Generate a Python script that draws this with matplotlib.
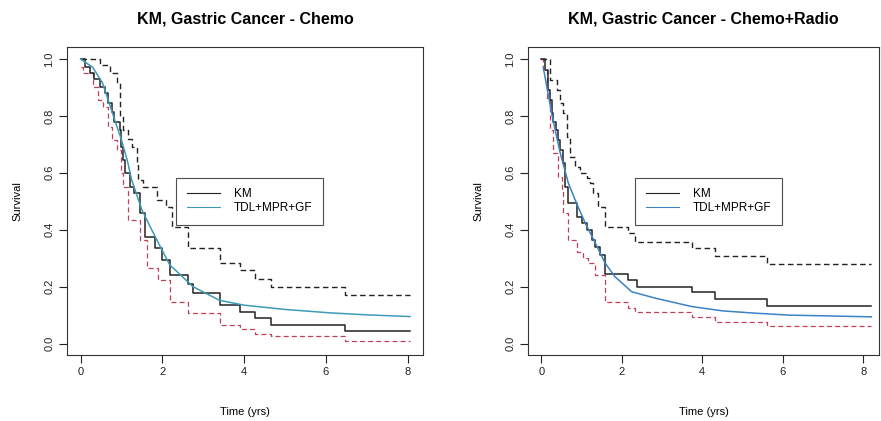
import matplotlib
matplotlib.use("Agg")
import matplotlib.pyplot as plt

plt.rcParams['font.family'] = ['Liberation Sans', 'DejaVu Sans']

# --- Chemo: Kaplan-Meier and 95% limits (step curves)
chemo_km_t = [0, 0.1, 0.22, 0.34, 0.47, 0.59, 0.66, 0.76, 0.83, 0.96, 1.0, 1.05, 1.1, 1.2,
              1.32, 1.45, 1.57, 1.81, 2.0, 2.18, 2.62, 2.75, 3.4, 3.9, 4.26, 4.66, 6.47, 8.06]
chemo_km_s = [1.0, 0.97, 0.95, 0.93, 0.9, 0.88, 0.845, 0.815, 0.78, 0.75, 0.69, 0.645, 0.6, 0.55,
              0.53, 0.46, 0.375, 0.337, 0.295, 0.242, 0.21, 0.178, 0.137, 0.11, 0.09, 0.067, 0.046, 0.046]
chemo_up_t = [0, 0.47, 0.71, 0.88, 0.96, 1.03, 1.15, 1.27, 1.37, 1.4, 1.52, 1.86, 2.1, 2.23,
              2.62, 3.4, 3.9, 4.26, 4.66, 6.47, 8.06]
chemo_up_s = [1.0, 0.98, 0.95, 0.915, 0.8, 0.75, 0.72, 0.69, 0.635, 0.575, 0.55, 0.505, 0.48, 0.41,
              0.337, 0.284, 0.26, 0.228, 0.2, 0.172, 0.172]
chemo_lo_t = [0, 0.05, 0.3, 0.42, 0.54, 0.66, 0.78, 0.88, 1.0, 1.05, 1.15, 1.45, 1.62, 1.9,
              2.18, 2.62, 3.4, 3.9, 4.26, 4.66, 6.47, 8.06]
chemo_lo_s = [0.97, 0.95, 0.9, 0.856, 0.83, 0.76, 0.716, 0.68, 0.6, 0.55, 0.435, 0.365, 0.267, 0.225,
              0.147, 0.108, 0.067, 0.05, 0.035, 0.025, 0.01, 0.01]
# --- Chemo: fitted TDL+MPR+GF curve
chemo_fit_t = [0, 0.3, 0.54, 0.78, 1.0, 1.15, 1.25, 1.5, 1.81, 2.18, 2.75, 3.4, 4.0, 5.0, 6.1, 7.0, 8.06]
chemo_fit_s = [1.0, 0.97, 0.915, 0.81, 0.716, 0.64, 0.575, 0.47, 0.38, 0.277, 0.2, 0.152, 0.135,
               0.12, 0.108, 0.101, 0.095]

# --- Chemo+Radio
radio_km_t = [0, 0.1, 0.17, 0.22, 0.27, 0.3, 0.37, 0.42, 0.47, 0.54, 0.6, 0.67, 0.89, 1.01,
              1.14, 1.26, 1.34, 1.46, 1.58, 2.15, 2.38, 3.74, 4.31, 5.62, 8.2]
radio_km_s = [1.0, 0.96, 0.89, 0.856, 0.81, 0.78, 0.75, 0.716, 0.68, 0.635, 0.55, 0.495, 0.445, 0.424,
              0.4, 0.365, 0.34, 0.312, 0.245, 0.225, 0.2, 0.18, 0.158, 0.133, 0.133]
radio_up_t = [0, 0.22, 0.4, 0.47, 0.54, 0.64, 0.72, 0.84, 0.97, 1.14, 1.21, 1.29, 1.41, 1.58,
              2.15, 2.33, 3.74, 4.31, 5.62, 8.2]
radio_up_s = [1.0, 0.926, 0.89, 0.845, 0.81, 0.726, 0.656, 0.62, 0.6, 0.58, 0.565, 0.53, 0.48, 0.41,
              0.39, 0.358, 0.337, 0.309, 0.28, 0.28]
radio_lo_t = [0, 0.05, 0.15, 0.22, 0.3, 0.42, 0.52, 0.54, 0.67, 0.89, 1.04, 1.16, 1.34, 1.58,
              2.15, 2.33, 3.74, 4.31, 5.62, 8.2]
radio_lo_s = [1.0, 0.96, 0.856, 0.75, 0.67, 0.585, 0.54, 0.46, 0.365, 0.323, 0.3, 0.284, 0.242, 0.147,
              0.126, 0.112, 0.095, 0.077, 0.063, 0.063]
radio_fit_t = [0.05, 0.27, 0.47, 0.67, 0.84, 1.09, 1.34, 1.58, 1.83, 2.25, 2.82, 3.74, 4.5, 5.3,
               6.16, 7.2, 8.2]
radio_fit_s = [0.97, 0.8, 0.67, 0.565, 0.505, 0.424, 0.354, 0.284, 0.235, 0.182, 0.16, 0.13, 0.115,
               0.107, 0.1, 0.097, 0.094]

titulos = ['KM, Gastric Cancer - Chemo', 'KM, Gastric Cancer - Chemo+Radio']
x_ticks = [0, 2, 4, 6, 8]
y_ticks = [0.0, 0.2, 0.4, 0.6, 0.8, 1.0]

fig = plt.figure(figsize=(8.81, 4.21), dpi=100)
ax1 = fig.add_axes([0.0761, 0.1568, 0.4041, 0.7304])
ax2 = fig.add_axes([0.5993, 0.1568, 0.3984, 0.7304])

paineis = [
    (ax1, chemo_km_t, chemo_km_s, chemo_up_t, chemo_up_s, chemo_lo_t, chemo_lo_s,
     chemo_fit_t, chemo_fit_s, '#3d9ab8', (-0.33, 8.38)),
    (ax2, radio_km_t, radio_km_s, radio_up_t, radio_up_s, radio_lo_t, radio_lo_s,
     radio_fit_t, radio_fit_s, '#3b82c6', (-0.33, 8.39)),
]

dash = (0, (4, 2.5))
for i, (ax, kt, ks, ut, us, lt, ls, ft, fs, cor, xl) in enumerate(paineis):
    ax.plot(ut, us, color='#222222', lw=1.0, ls=dash, drawstyle='steps-post')
    ax.plot(lt, ls, color='#c0405a', lw=0.9, ls=dash, drawstyle='steps-post')
    ax.plot(kt, ks, color='#222222', lw=1.1, drawstyle='steps-post', label='KM')
    ax.plot(ft, fs, color=cor, lw=1.1, label='TDL+MPR+GF')

    ax.set_xlim(*xl)
    ax.set_ylim(-0.04, 1.04)
    ax.set_xticks(x_ticks)
    ax.set_yticks(y_ticks)
    ax.set_yticklabels(['%.1f' % v for v in y_ticks], rotation=90, va='center')
    ax.tick_params(direction='out', length=6, width=0.8, labelsize=8, pad=3, colors='#222222')
    for sp in ax.spines.values():
        sp.set_linewidth(0.8)
        sp.set_color('#333333')

    # titulo e rotulos.
    ax.set_title(titulos[i], fontsize=11.5, fontweight='bold', pad=17)
    ax.set_xlabel('Time (yrs)', fontsize=8, labelpad=21)
    ax.set_ylabel('Survival', fontsize=8, labelpad=16)

    leg = ax.legend(loc='upper left', bbox_to_anchor=(0.306, 0.576), fontsize=8.5,
                    fancybox=False, frameon=True, handlelength=2.8, borderpad=0.9,
                    labelspacing=0.15, handletextpad=1.2, borderaxespad=0)
    leg.get_frame().set_edgecolor('#222222')
    leg.get_frame().set_linewidth(0.8)
    for h in leg.get_lines():
        h.set_linewidth(0.8)

fig.savefig('out.png', dpi=100)
